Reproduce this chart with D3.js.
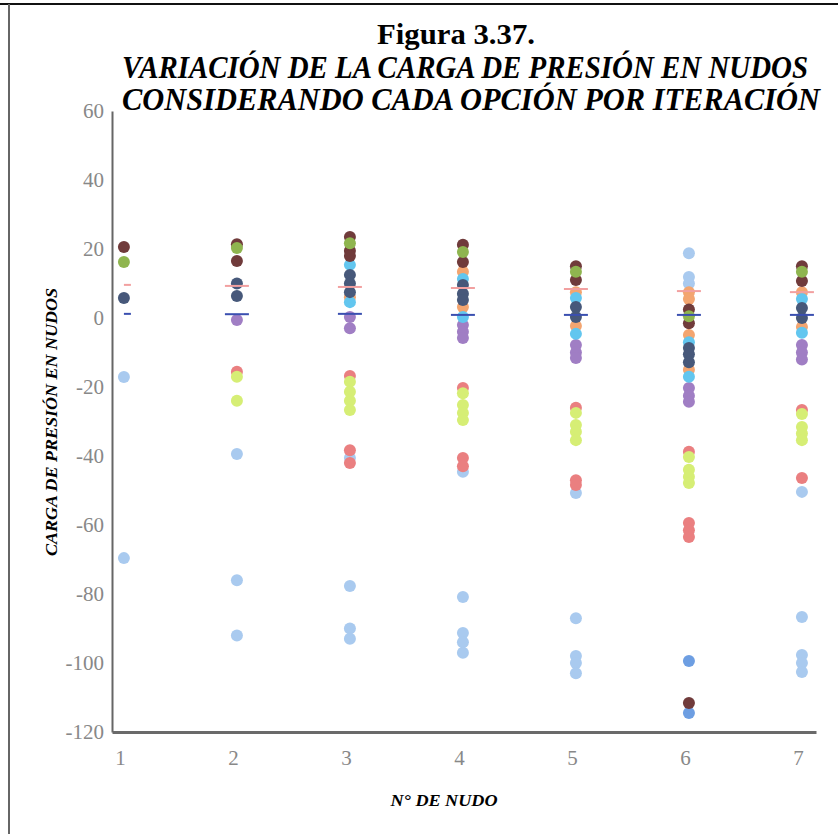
<!DOCTYPE html>
<html><head><meta charset="utf-8">
<script src="https://cdn.jsdelivr.net/npm/d3@7"></script>
<style>html,body{margin:0;padding:0;background:#fff;}svg{display:block;}</style>
</head><body>
<script>
// ---------- DATA ----------
const nodes = [1, 2, 3, 4, 5, 6, 7];
const yTicks = [60, 40, 20, 0, -20, -40, -60, -80, -100, -120];
// each series: values per node (index 0 -> node 1)
const lightBlue = [[-17.1, -69.6], [-39.4, -76, -92], [-40.6, -77.7, -90, -93], [-44.6, -80.9, -91.3, -94, -97], [-50.7, -87, -98, -100, -103], [18.8, 11.9, 10], [-50.4, -86.7, -97.7, -100, -102.6]];
const red = [[], [-15.6], [-16.8, -38.3, -42], [-20.3, -40.6, -43], [-26, -47, -48.4], [-38.8, -59.4, -61.5, -63.5], [-26.7, -46.4]];
const blue = [[], [], [], [], [], [-99.4, -114.5], []];
const lime = [[], [-17, -24], [-18.5, -21.4, -24, -26.7], [-21.8, -25.2, -27.5, -29.6], [-27.5, -31, -33, -35.4], [-40.3, -44, -46, -47.8], [-27.8, -31.6, -33.5, -35.4]];
const purple = [[], [-0.6], [0.3, -3], [-2, -4, -5.8], [-7.8, -10, -11.6], [-20.3, -22.5, -24.3], [-7.8, -10, -12]];
const orange = [[], [], [6], [13.4, 3.2], [7.5, -2.3], [7.5, 5.5, -4.9, -15], [7.5, -2.6]];
const sky = [[], [], [15.4, 4.6], [11.3, 0.3], [5.8, -4.6], [-7, -17], [5.5, -4.3]];
const slate = [[5.8], [10, 6.4], [12.5, 10, 7.5], [9.6, 7, 5.2], [3.2, 0.3], [-8.7, -10.5, -12.8], [2.9, 0]];
const brown = [[20.6], [21.4, 16.5], [23.5, 19.5, 18], [21.2, 16.2], [15, 11], [2.5, -1.5, -111.6], [15, 10.7]];
const green = [[16.2], [20.3], [21.7], [19.1], [13.4], [0.5], [13.4]];
const pinkRef = [9.6, 9.3, 9, 8.7, 8.4, 7.8, 7.5];
const blueRef = [1.2, 1.1, 1.2, 0.9, 0.9, 0.9, 0.9];

// ---------- STYLE ----------
const colors = {
  lightBlue: "#a9caef", red: "#ea7f80", blue: "#6d9ee2", lime: "#d6ee74",
  purple: "#a07ec4", orange: "#f3a56f", sky: "#62c6ef", slate: "#46597a",
  brown: "#6f3a3a", green: "#8fb550", pinkRef: "#f2a0a0", blueRef: "#3a4fb0"
};
const seriesList = [
  ["lightBlue", lightBlue], ["red", red], ["blue", blue], ["lime", lime],
  ["purple", purple], ["orange", orange], ["sky", sky], ["slate", slate],
  ["brown", brown], ["green", green]
];

const W = 838, H = 834;
const svg = d3.select("body").append("svg").attr("width", W).attr("height", H);

// frame
svg.append("line").attr("x1", 0).attr("x2", W).attr("y1", 4).attr("y2", 4).attr("stroke", "#111").attr("stroke-width", 2);
svg.append("line").attr("x1", 9).attr("x2", 9).attr("y1", 4).attr("y2", H).attr("stroke", "#666").attr("stroke-width", 2);

const x = d3.scaleLinear().domain([0.93, 7.16]).range([112, 816]);
const y = d3.scaleLinear().domain([-120, 60]).range([732, 111]);
const ptOffset = 4;

// Title
svg.append("text").attr("x", 456).attr("y", 44).attr("text-anchor", "middle")
  .attr("font-family", "Liberation Serif").attr("font-weight", "bold").attr("font-size", 29)
  .attr("textLength", 158).attr("lengthAdjust", "spacingAndGlyphs").text("Figura 3.37.");
svg.append("text").attr("x", 122).attr("y", 78)
  .attr("font-family", "Liberation Serif").attr("font-weight", "bold").attr("font-style", "italic").attr("font-size", 32)
  .attr("textLength", 686).attr("lengthAdjust", "spacingAndGlyphs").text("VARIACIÓN DE LA CARGA DE PRESIÓN EN NUDOS");
svg.append("text").attr("x", 122).attr("y", 110)
  .attr("font-family", "Liberation Serif").attr("font-weight", "bold").attr("font-style", "italic").attr("font-size", 32)
  .attr("textLength", 698).attr("lengthAdjust", "spacingAndGlyphs").text("CONSIDERANDO CADA OPCIÓN POR ITERACIÓN");

// Axes
const fmt = d => String(d);
const yAxis = d3.axisLeft(y).tickValues(yTicks).tickSize(0).tickPadding(8).tickFormat(fmt);
const gy = svg.append("g").attr("transform", "translate(112,0)").call(yAxis);
gy.select(".domain").attr("stroke", "#666").attr("stroke-width", 2);
gy.selectAll("text").attr("font-family", "Liberation Serif").attr("font-size", 21).attr("fill", "#888");

const xAxis = d3.axisBottom(x).tickValues(nodes).tickSize(0).tickPadding(18).tickFormat(fmt);
const gx = svg.append("g").attr("transform", "translate(0,732)").call(xAxis);
gx.select(".domain").attr("stroke", "#6a6a6a").attr("stroke-width", 3);
gx.selectAll("text").attr("font-family", "Liberation Serif").attr("font-size", 21).attr("fill", "#888");

// axis titles
svg.append("text").attr("transform", "translate(57,422) rotate(-90)").attr("text-anchor", "middle")
  .attr("font-family", "Liberation Serif").attr("font-weight", "bold").attr("font-style", "italic").attr("font-size", 16)
  .attr("textLength", 268).attr("lengthAdjust", "spacingAndGlyphs").text("CARGA DE PRESIÓN EN NUDOS");
svg.append("text").attr("x", 444).attr("y", 806).attr("text-anchor", "middle")
  .attr("font-family", "Liberation Serif").attr("font-weight", "bold").attr("font-style", "italic").attr("font-size", 16)
  .attr("textLength", 107).attr("lengthAdjust", "spacingAndGlyphs").text("N° DE NUDO");

// points
const defs = svg.append("defs");
defs.append("filter").attr("id", "soft").append("feGaussianBlur").attr("stdDeviation", 0.6);
const gp = svg.append("g").attr("filter", "url(#soft)");
seriesList.forEach(([name, vals]) => {
  const pts = [];
  vals.forEach((arr, i) => arr.forEach(v => pts.push({ n: nodes[i], v })));
  gp.append("g").selectAll("circle").data(pts).join("circle")
    .attr("cx", d => x(d.n) + ptOffset).attr("cy", d => y(d.v)).attr("r", 6)
    .attr("fill", colors[name]);
});

// reference dashes
const dashW = n => (n === 1 ? 7 : 24);
[["pinkRef", pinkRef], ["blueRef", blueRef]].forEach(([name, vals]) => {
  gp.append("g").selectAll("line").data(vals.map((v, i) => ({ n: nodes[i], v }))).join("line")
    .attr("x1", d => x(d.n) + ptOffset - (d.n === 1 ? 0 : dashW(d.n) / 2))
    .attr("x2", d => x(d.n) + ptOffset + (d.n === 1 ? dashW(d.n) : dashW(d.n) / 2))
    .attr("y1", d => y(d.v)).attr("y2", d => y(d.v))
    .attr("stroke", colors[name]).attr("stroke-width", 2);
});
</script>
</body></html>
